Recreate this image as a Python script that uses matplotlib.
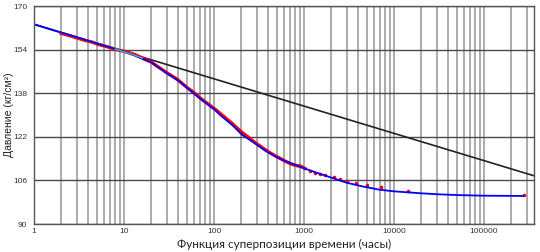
import matplotlib
matplotlib.use('Agg')
import matplotlib.pyplot as plt
from matplotlib.ticker import LogLocator, FixedLocator, NullFormatter

# blue: model curve
blue_t = [1, 2, 3.16, 5, 7.1, 10, 14, 20, 30, 42, 59, 80, 100, 117, 160,
          204, 282, 385, 562, 900, 1510, 2950, 4470, 6900, 10000, 19500,
          31600, 53700, 100000, 275000]
blue_p = [163.3, 160.3, 158.3, 156.3, 154.8, 153.3, 151.5, 149.4, 145.3,
          142.2, 138.0, 134.6, 132.2, 130.0, 126.3, 122.8, 119.7, 116.6,
          113.7, 111.0, 108.4, 105.2, 103.8, 102.6, 102.0, 101.3, 100.9,
          100.6, 100.4, 100.3]

# red: measured points
red_t = [2.0, 2.5, 3.0, 3.6, 4.5, 5.2, 6.3, 7.4, 8.5, 10, 11.5, 13.2, 15.1,
         17.4, 20, 22.9, 26.3, 30.2, 34.7, 39.8, 45.7, 52.5, 60.3, 69.2,
         79.4, 91.2, 105, 120, 138, 158, 182, 209, 240, 275, 316, 363, 417,
         479, 550, 631, 724, 832, 912, 1020, 1175, 1320, 1510, 1700, 2140,
         2510, 3020, 3800, 5010, 7240, 14450, 275000]
red_p = [160.0, 159.1, 158.3, 157.5, 156.7, 155.9, 155.2, 154.5, 153.9,
         153.4, 152.8, 152.2, 151.3, 150.3, 149.5, 148.1, 146.8, 145.4,
         144.2, 142.9, 141.2, 139.6, 138.2, 136.4, 134.9, 133.4, 131.9,
         130.3, 128.6, 127.0, 125.1, 123.4, 121.9, 120.3, 118.9, 117.5,
         116.2, 115.0, 114.0, 112.9, 112.0, 111.4, 111.3, 110.4, 109.4,
         108.8, 108.3, 107.9, 107.1, 106.4, 105.8, 105.2, 104.3, 103.5,
         102.2, 100.6]
n_dense = 44

# early-time overlapping segments
olive_t = [1.5, 3, 6, 9]
olive_p = [161.4, 158.6, 155.6, 153.9]
cyan_t = [8, 12, 16]
cyan_p = [154.2, 152.4, 150.9]

# black: straight-line semilog fit
black_t = [1, 360000]
black_p = [163.3, 107.7]

x_ticks = [1, 10, 100, 1000, 10000, 100000]
y_ticks = [90, 106, 122, 138, 154, 170]

fig = plt.figure(figsize=(5.4, 2.52), dpi=100)
ax = fig.add_axes([0.063, 0.111, 0.926, 0.865])

ax.set_xscale('log')
ax.set_xlim(1, 360000)
ax.set_ylim(90, 170)

ax.xaxis.set_major_locator(FixedLocator(x_ticks))
ax.xaxis.set_minor_locator(LogLocator(base=10, subs=range(2, 10), numticks=20))
ax.xaxis.set_minor_formatter(NullFormatter())
ax.set_xticklabels([str(t) for t in x_ticks])
ax.set_yticks(y_ticks)

ax.grid(True, which='both', axis='x', color='#ababab', lw=1.4)
ax.grid(True, which='major', axis='y', color='#4a4a4a', lw=1.0)
ax.set_axisbelow(True)

ax.tick_params(which='both', length=0, labelsize=6, colors='#333333')
ax.tick_params(axis='x', pad=3)
ax.tick_params(axis='y', pad=5)
for lbl in ax.get_xticklabels() + ax.get_yticklabels():
    lbl.set_family('Liberation Sans')
for s in ax.spines.values():
    s.set_color('#555555')
    s.set_linewidth(1.0)

ax.plot(black_t, black_p, color='#222222', lw=1.2)
ax.plot(red_t[:n_dense], red_p[:n_dense], color='red', lw=2.4)
ax.plot(red_t[n_dense:], red_p[n_dense:], 'o', color='red', ms=2.6, mew=0)
ax.plot(olive_t, olive_p, color='#c8a030', lw=1.2)
ax.plot(blue_t, blue_p, color='blue', lw=1.3)
ax.plot(cyan_t, cyan_p, color='#30c0c0', lw=1.0)

ax.set_xlabel('Функция суперпозиции времени (часы)', family='Lato',
              fontsize=8.5, color='#222222')
ax.xaxis.set_label_coords(0.5, -0.092)
ax.xaxis.label.set_va('center')
ax.set_ylabel('Давление (кг/см²)', family='Liberation Sans',
              fontsize=7.5, color='#222222')
ax.yaxis.set_label_coords(-0.05, 0.5)
ax.yaxis.label.set_va('center')

fig.savefig('out.png', dpi=100, facecolor='white')
